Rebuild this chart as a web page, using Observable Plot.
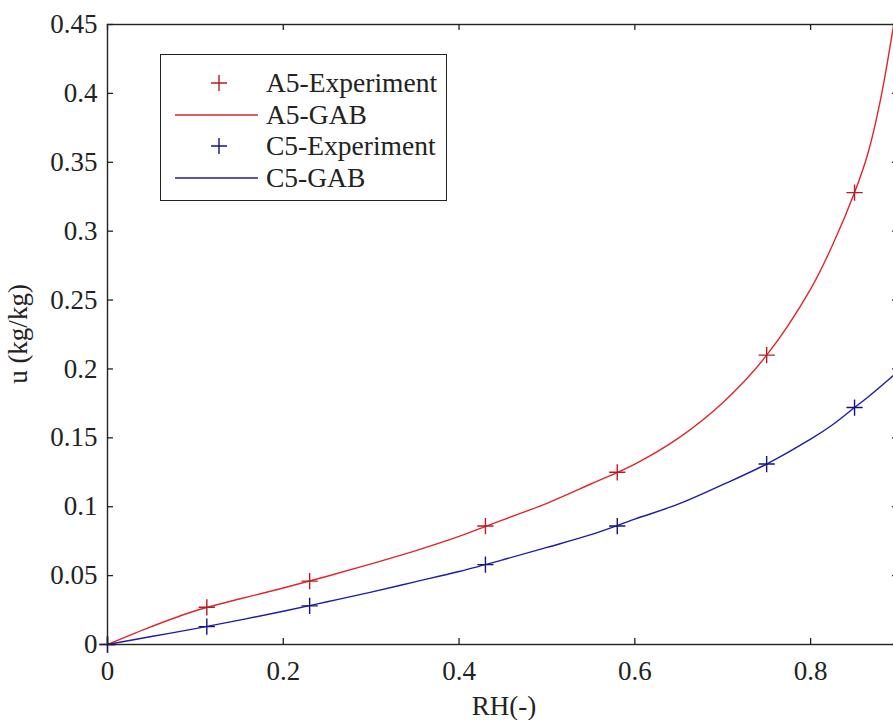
<!DOCTYPE html>
<html>
<head>
<meta charset="utf-8">
<script src="https://cdn.jsdelivr.net/npm/d3@7"></script>
<script src="https://cdn.jsdelivr.net/npm/@observablehq/plot@0.6"></script>
<style>
  html, body { margin: 0; padding: 0; background: #fff; overflow: hidden; }
  #wrap { position: relative; width: 893px; height: 720px; }
  #wrap, #wrap *, svg, svg text, svg g { font-family: "Liberation Serif", "Times New Roman", serif !important; }
  #legend { position: absolute; left: 160px; top: 54px; width: 287px; height: 147px; border: 1.3px solid #222; background: #fff; box-sizing: border-box; }
  .row { position: absolute; left: 0; height: 30px; width: 100%; }
  .row svg { position: absolute; left: 0; top: 0; }
  .row span { position: absolute; left: 105px; top: 50%; transform: translateY(-52%); font-size: 27.5px; color: #222; white-space: nowrap; line-height: 1; }
  .axlabel { position: absolute; font-size: 27px; color: #222; white-space: nowrap; line-height: 1; }
</style>
</head>
<body>
<div id="wrap"></div>
<script>
// Experimental points
const rhExp = [0, 0.113, 0.23, 0.43, 0.58, 0.75, 0.85];
const a5Exp = [0, 0.027, 0.046, 0.086, 0.125, 0.21, 0.328];
const c5Exp = [0, 0.013, 0.028, 0.058, 0.086, 0.131, 0.172];
// GAB fitted curves
const rhFit = [0, 0.05, 0.1, 0.15, 0.2, 0.25, 0.3, 0.35, 0.4, 0.45, 0.5, 0.55, 0.6, 0.65, 0.7, 0.75, 0.8, 0.825, 0.85, 0.865, 0.88, 0.9];
const a5Fit = [0, 0.013, 0.0245, 0.033, 0.041, 0.0495, 0.0585, 0.068, 0.0785, 0.0905, 0.1025, 0.1165, 0.131, 0.150, 0.1755, 0.21, 0.258, 0.29, 0.328, 0.356, 0.397, 0.472];
const c5Fit = [0, 0.0058, 0.0115, 0.0177, 0.0241, 0.031, 0.038, 0.0455, 0.053, 0.0615, 0.0705, 0.0797, 0.091, 0.102, 0.116, 0.131, 0.149, 0.1595, 0.172, 0.1795, 0.1875, 0.1985];
// Ticks
const xTicks = [0, 0.2, 0.4, 0.6, 0.8];
const xTickLabels = ["0", "0.2", "0.4", "0.6", "0.8"];
const yTicks = [0, 0.05, 0.1, 0.15, 0.2, 0.25, 0.3, 0.35, 0.4, 0.45];
const yTickLabels = ["0", "0.05", "0.1", "0.15", "0.2", "0.25", "0.3", "0.35", "0.4", "0.45"];
const seriesNames = ["A5-Experiment", "A5-GAB", "C5-Experiment", "C5-GAB"];
const xLabel = "RH(-)";
const yLabel = "u (kg/kg)";

const RED = "#e0252c";
const BLUE = "#1c1ca6";
const RED_M = "#b81c22";
const BLUE_M = "#141480";
const FONT = "Liberation Serif";

const W = 893, H = 720;
const mL = 107, mR = -5, mT = 24, mB = 76;
const frameW = W - mL - mR, frameH = H - mT - mB;
const tickLen = 6;

const expA = rhExp.map((x, i) => ({x, y: a5Exp[i]}));
const expC = rhExp.map((x, i) => ({x, y: c5Exp[i]}));
const fitA = rhFit.map((x, i) => ({x, y: a5Fit[i]}));
const fitC = rhFit.map((x, i) => ({x, y: c5Fit[i]}));

const chart = Plot.plot({
  width: W, height: H,
  marginLeft: mL, marginRight: mR, marginTop: mT, marginBottom: mB,
  style: { fontFamily: FONT, fontSize: "27px", color: "#222", overflow: "hidden" },
  x: { domain: [0, 0.9] },
  y: { domain: [0, 0.45] },
  marks: [
    Plot.line(fitA, {x: "x", y: "y", stroke: RED, strokeWidth: 1.4, curve: "catmull-rom", clip: true}),
    Plot.line(fitC, {x: "x", y: "y", stroke: BLUE, strokeWidth: 1.4, curve: "catmull-rom", clip: true}),
    Plot.dot(expA, {x: "x", y: "y", symbol: "plus", r: 5.3, stroke: RED_M, strokeWidth: 1.4}),
    Plot.dot(expC, {x: "x", y: "y", symbol: "plus", r: 5.3, stroke: BLUE_M, strokeWidth: 1.4}),
    // inward ticks on all four sides
    Plot.tickX(xTicks, {x: d => d, insetTop: frameH - tickLen, stroke: "#222", strokeWidth: 1.3}),
    Plot.tickX(xTicks, {x: d => d, insetBottom: frameH - tickLen, stroke: "#222", strokeWidth: 1.3}),
    Plot.tickY(yTicks, {y: d => d, insetRight: frameW - tickLen, stroke: "#222", strokeWidth: 1.3}),
    Plot.tickY(yTicks, {y: d => d, insetLeft: frameW - tickLen, stroke: "#222", strokeWidth: 1.3}),
    Plot.axisX(xTicks, {tickSize: 0, tickPadding: 16, tickFormat: (d, i) => xTickLabels[i], fontSize: 27, fontFamily: FONT, label: null}),
    Plot.axisY(yTicks, {tickSize: 0, tickPadding: 10, tickFormat: (d, i) => yTickLabels[i], fontSize: 27, fontFamily: FONT, label: null}),
    Plot.frame({stroke: "#222", strokeWidth: 1.4})
  ]
});

const wrap = document.getElementById("wrap");
wrap.appendChild(chart);

// Axis titles
const xl = document.createElement("div");
xl.className = "axlabel";
xl.textContent = xLabel;
xl.style.left = "504px"; xl.style.top = "706px";
xl.style.transform = "translate(-50%, -50%)";
wrap.appendChild(xl);
const yl = document.createElement("div");
yl.className = "axlabel";
yl.textContent = yLabel;
yl.style.left = "18px"; yl.style.top = "334px";
yl.style.transform = "translate(-50%, -50%) rotate(-90deg)";
wrap.appendChild(yl);

// Legend (inside plot area, top-left)
const legend = document.createElement("div");
legend.id = "legend";
const rowCenters = [28, 60, 91, 123];
const legendItems = [
  {name: seriesNames[0], color: RED_M, kind: "plus"},
  {name: seriesNames[1], color: RED, kind: "line"},
  {name: seriesNames[2], color: BLUE_M, kind: "plus"},
  {name: seriesNames[3], color: BLUE, kind: "line"}
];
legendItems.forEach((it, i) => {
  const row = document.createElement("div");
  row.className = "row";
  row.style.top = (rowCenters[i] - 15) + "px";
  const ns = "http://www.w3.org/2000/svg";
  const svg = document.createElementNS(ns, "svg");
  svg.setAttribute("width", "104"); svg.setAttribute("height", "30");
  if (it.kind === "plus") {
    const p = document.createElementNS(ns, "path");
    p.setAttribute("d", "M50,15h16M58,7v16");
    p.setAttribute("stroke", it.color); p.setAttribute("stroke-width", "1.4"); p.setAttribute("fill", "none");
    svg.appendChild(p);
  } else {
    const l = document.createElementNS(ns, "line");
    l.setAttribute("x1", "14"); l.setAttribute("x2", "97"); l.setAttribute("y1", "15"); l.setAttribute("y2", "15");
    l.setAttribute("stroke", it.color); l.setAttribute("stroke-width", "1.4");
    svg.appendChild(l);
  }
  row.appendChild(svg);
  const span = document.createElement("span");
  span.textContent = it.name;
  row.appendChild(span);
  legend.appendChild(row);
});
wrap.appendChild(legend);
</script>
</body>
</html>
